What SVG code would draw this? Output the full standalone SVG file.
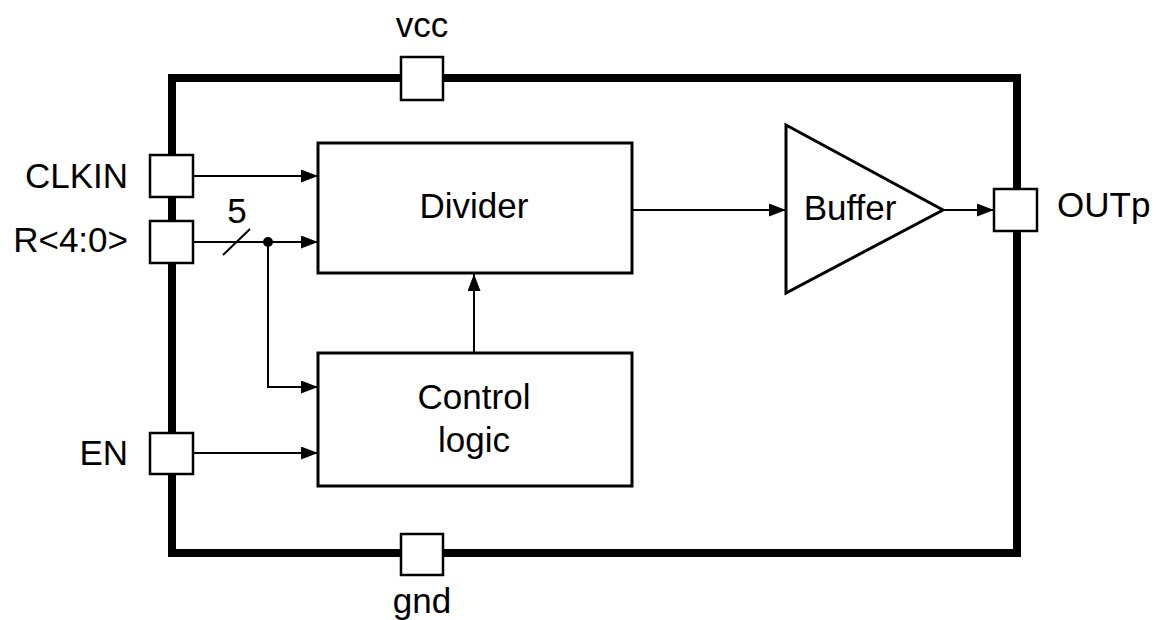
<svg xmlns="http://www.w3.org/2000/svg" width="1156" height="620" viewBox="0 0 1156 620">
<defs>
<style>
text{font-family:"Liberation Sans",Arial,sans-serif;font-size:35px;fill:#000}
.blk{fill:#fff;stroke:#000;stroke-width:3}
.port{fill:#fff;stroke:#000;stroke-width:2.5}
.wire{fill:none;stroke:#000;stroke-width:2}
</style>
<marker id="arr" viewBox="0 0 17 13" refX="17" refY="6.5" markerWidth="17" markerHeight="13" markerUnits="userSpaceOnUse" orient="auto">
<path d="M0,0 L17,6.5 L0,13 Z" fill="#000"/>
</marker>
</defs>
<rect width="1156" height="620" fill="#fff"/>
<g id="chip"><rect x="172" y="78" width="845" height="475" fill="none" stroke="#000" stroke-width="8"/></g>
<g id="connectors">
<line class="wire" x1="193" y1="176" x2="318" y2="176" marker-end="url(#arr)"/>
<line class="wire" x1="193" y1="242" x2="318" y2="242" marker-end="url(#arr)"/>
<line class="wire" x1="223" y1="255" x2="250" y2="229"/>
<text x="237" y="223" text-anchor="middle" font-size="31">5</text>
<circle cx="268" cy="242" r="5" fill="#000"/>
<polyline class="wire" points="268,242 268,387 318,387" marker-end="url(#arr)"/>
<line class="wire" x1="193" y1="453" x2="318" y2="453" marker-end="url(#arr)"/>
<line class="wire" x1="474" y1="353" x2="474" y2="274" marker-end="url(#arr)"/>
<line class="wire" x1="632" y1="210" x2="786" y2="210" marker-end="url(#arr)"/>
<line class="wire" x1="943" y1="210" x2="994" y2="210" marker-end="url(#arr)"/>
</g>
<g id="divider"><rect class="blk" x="318" y="143" width="314" height="130"/><text x="474" y="218" text-anchor="middle">Divider</text></g>
<g id="control"><rect class="blk" x="318" y="353" width="314" height="133"/><text x="474" y="409" text-anchor="middle">Control</text><text x="474" y="452" text-anchor="middle">logic</text></g>
<g id="buffer"><polygon class="blk" points="786,125 943,210 786,293"/><text x="850" y="220" text-anchor="middle">Buffer</text></g>
<g id="port-clkin"><rect class="port" x="150" y="155" width="43" height="42"/><text x="128" y="188" text-anchor="end">CLKIN</text></g>
<g id="port-r"><rect class="port" x="150" y="221" width="43" height="42"/><text x="128" y="252" text-anchor="end">R&lt;4:0&gt;</text></g>
<g id="port-en"><rect class="port" x="150" y="433" width="43" height="41"/><text x="128" y="465" text-anchor="end">EN</text></g>
<g id="port-vcc"><rect class="port" x="401" y="57" width="42" height="43"/><text x="422" y="37" text-anchor="middle">vcc</text></g>
<g id="port-gnd"><rect class="port" x="401" y="534" width="42" height="41"/><text x="422" y="613" text-anchor="middle">gnd</text></g>
<g id="port-outp"><rect class="port" x="994" y="189" width="43" height="42"/><text x="1057" y="217">OUTp</text></g>
</svg>
